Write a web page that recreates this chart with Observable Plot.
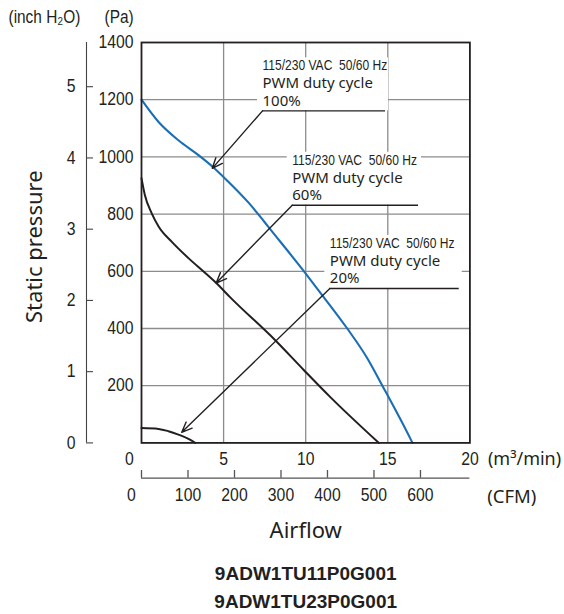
<!DOCTYPE html>
<html><head><meta charset="utf-8">
<script src="https://cdn.jsdelivr.net/npm/d3@7"></script>
<script src="https://cdn.jsdelivr.net/npm/@observablehq/plot@0.6"></script>
<style>body{margin:0;background:#fff}</style>
</head><body><div id="chart"></div>
<script>
// ---- data (airflow m³/min, static pressure Pa) ----
const airflow100 = [0, 1.04, 2.25, 3.47, 4.38, 5.1, 6.52, 7.33, 7.69, 9.85, 11.0, 12.53, 13.75, 14.66, 16.38, 16.5];
const pressure100 = [1200, 1122, 1058, 1006, 963, 924, 840, 784, 758, 603, 517, 400, 296, 201, 14, 0];
const airflow60 = [0, 0.2, 0.63, 1.04, 1.85, 2.86, 3.88, 4.55, 5.42, 8.16, 9.88, 11.5, 14.45];
const pressure60 = [925, 868, 802, 757, 703, 646, 594, 559, 508, 358, 255, 160, 0];
const airflow20 = [0, 1.04, 1.64, 2.25, 2.86, 3.27];
const pressure20 = [52, 49, 41, 29, 14, 0];

// tick labels
const paTicks = [200, 400, 600, 800, 1000, 1200, 1400];
const inchTicks = [0, 1, 2, 3, 4, 5];
const m3Ticks = [0, 5, 10, 15, 20];
const cfmTicks = [0, 100, 200, 300, 400, 500, 600];
const PA_PER_INCH = 249.089;
const M3_PER_CFM = 0.0283168;

// annotations
const annoTitle = "115/230 VAC  50/60 Hz";
const annoSub = "PWM duty cycle";
const annoDuty = ["100%", "60%", "20%"];
const annoTextX = [7.37, 9.18, 11.47];
const annoLineY = [1161, 831, 540];
const annoLineEndX = [14.86, 16.87, 19.35];
const annoTipX = [4.31, 4.55, 2.45];
const annoTipY = [960, 559, 37];

// ---- layout ----
const W = 564, H = 614;
const mL = 141, mR = 94.6, mT = 42, mB = 171.6;
const pxPerX = (W - mL - mR) / 20;
const pxPerY = (H - mT - mB) / 1400;
const px = p => p / pxPerX;   // pixels -> x data units
const py = p => p / pxPerY;   // pixels -> y data units
const ink = "#231f20";
const blue = "#1a6eb6";
const grid = "#8c8c8c";
const cond = "'Liberation Sans', Arial, sans-serif";   // horizontally condensed afterwards
const sans = "'Noto Sans', 'Open Sans', sans-serif";

const rows = (xs, ys) => xs.map((x, i) => ({x, y: ys[i]}));
const s100 = rows(airflow100, pressure100);
const s60 = rows(airflow60, pressure60);
const s20 = rows(airflow20, pressure20);
const annos = annoDuty.map((duty, i) => ({
  duty, x: annoTextX[i], y: annoLineY[i], x2: annoLineEndX[i], tx: annoTipX[i], ty: annoTipY[i]
}));

const inchAxisX = -px(55);
const inchTickEnd = -px(48);
const cfmAxisY = -py(35.3);
const cfmTickTop = -py(27.6);

const tick = {fontFamily: cond, fontSize: 17.5, fill: ink, lineAnchor: "middle", ariaDescription: "cond-0.9"};

const chart = Plot.plot({
  width: W, height: H,
  marginLeft: mL, marginRight: mR, marginTop: mT, marginBottom: mB,
  x: {domain: [0, 20], axis: null},
  y: {domain: [0, 1400], axis: null},
  style: {fontFamily: sans, color: ink, background: "#fff"},
  marks: [
    // grid
    Plot.ruleX(m3Ticks.filter(d => d > 0 && d < 20), {stroke: grid, strokeWidth: 1.3}),
    Plot.ruleY(paTicks.filter(d => d < 1400), {stroke: grid, strokeWidth: 1.3}),
    // white label boxes
    Plot.rect(annos, {x1: d => d.x - px(5), x2: d => d.x2 + px(3), y1: "y", y2: d => d.y + py(53), fill: "white"}),
    // curves
    Plot.line(s100, {x: "x", y: "y", stroke: blue, strokeWidth: 2.1, curve: "monotone-x"}),
    Plot.line(s60, {x: "x", y: "y", stroke: ink, strokeWidth: 2, curve: "monotone-x"}),
    Plot.line(s20, {x: "x", y: "y", stroke: ink, strokeWidth: 2, curve: "monotone-x"}),
    Plot.frame({stroke: ink, strokeWidth: 1.8}),
    // annotation leaders
    Plot.ruleY(annos, {y: "y", x1: "x", x2: "x2", stroke: ink, strokeWidth: 1.4}),
    Plot.arrow(annos, {x1: "x", y1: "y", x2: "tx", y2: "ty", stroke: ink, strokeWidth: 1.4, headLength: 12, headAngle: 45}),
    Plot.text(annos, {x: "x", y: "y", text: () => annoTitle, dy: -45, textAnchor: "start", lineAnchor: "middle", fontFamily: cond, fontSize: 14.5, fill: ink, ariaDescription: "cond-0.83"}),
    Plot.text(annos, {x: "x", y: "y", text: () => annoSub, dy: -27.5, textAnchor: "start", lineAnchor: "middle", fontSize: 15, fill: ink}),
    Plot.text(annos, {x: "x", y: "y", text: "duty", dy: -10, textAnchor: "start", lineAnchor: "middle", fontSize: 15, fill: ink}),
    // Pa axis labels
    Plot.text(paTicks, {x: 0, y: d => d, text: d => String(d), textAnchor: "end", dx: -8, ...tick}),
    // inch H2O axis
    Plot.ruleX([inchAxisX], {y1: 0, y2: 1400, stroke: "#444", strokeWidth: 1.1}),
    Plot.ruleY(inchTicks, {y: d => d * PA_PER_INCH, x1: inchAxisX, x2: inchTickEnd, stroke: "#444", strokeWidth: 1.1}),
    Plot.text(inchTicks, {x: inchAxisX, y: d => d * PA_PER_INCH, text: d => String(d), textAnchor: "end", dx: -11, ...tick}),
    // m3/min axis labels
    Plot.text(m3Ticks.filter(d => d > 0), {x: d => d, y: 0, text: d => String(d), dy: 16, ...tick}),
    Plot.text(m3Ticks.filter(d => d === 0), {x: d => d, y: 0, text: d => String(d), dy: 16, dx: -12, ...tick}),
    // CFM axis
    Plot.ruleY([cfmAxisY], {x1: 0, x2: 20, stroke: "#555", strokeWidth: 1.3}),
    Plot.ruleX(cfmTicks, {x: d => d * M3_PER_CFM, y1: cfmAxisY, y2: cfmTickTop, stroke: "#555", strokeWidth: 1.3}),
    Plot.text(cfmTicks.filter(d => d > 0), {x: d => d * M3_PER_CFM, y: 0, text: d => String(d), dy: 52.5, ...tick}),
    Plot.text(cfmTicks.filter(d => d === 0), {x: d => d * M3_PER_CFM, y: 0, text: d => String(d), dy: 52.5, dx: -10, ...tick}),
    // unit labels
    Plot.text(["(inch H₂O)"], {frameAnchor: "top-left", dx: -133, dy: -25, textAnchor: "start", lineAnchor: "middle", fontFamily: cond, fontSize: 17.5, fill: ink, ariaDescription: "cond-0.88"}),
    Plot.text(["(Pa)"], {frameAnchor: "top-left", dx: -37, dy: -25, textAnchor: "start", lineAnchor: "middle", fontFamily: cond, fontSize: 17.5, fill: ink, ariaDescription: "cond-0.88"}),
    Plot.text(["(m³/min)"], {frameAnchor: "bottom-right", dx: 18, dy: 16, textAnchor: "start", lineAnchor: "middle", fontSize: 18, fill: ink}),
    Plot.text(["(CFM)"], {frameAnchor: "bottom-right", dx: 17.3, dy: 54.3, textAnchor: "start", lineAnchor: "middle", fontSize: 18.5, fill: ink}),
    // titles
    Plot.text(["Static pressure"], {frameAnchor: "left", rotate: -90, dx: -107, dy: 4, textAnchor: "middle", lineAnchor: "middle", fontSize: 22, fill: ink}),
    Plot.text(["Airflow"], {frameAnchor: "bottom", dy: 88, textAnchor: "middle", lineAnchor: "middle", fontSize: 22, fill: ink}),
    Plot.text(["9ADW1TU11P0G001"], {frameAnchor: "bottom", dy: 131.3, textAnchor: "middle", lineAnchor: "middle", fontFamily: "'Liberation Sans', Arial, sans-serif", fontWeight: "bold", fontSize: 19, fill: ink}),
    Plot.text(["9ADW1TU23P0G001"], {frameAnchor: "bottom", dy: 159.3, textAnchor: "middle", lineAnchor: "middle", fontFamily: "'Liberation Sans', Arial, sans-serif", fontWeight: "bold", fontSize: 19, fill: ink})
  ]
});
document.getElementById("chart").appendChild(chart);

// condense glyphs horizontally (the reference uses a condensed face)
d3.select(chart).selectAll('g[aria-description^="cond-"]').each(function() {
  const f = +this.getAttribute("aria-description").slice(5);
  d3.select(this).selectAll("text").each(function() {
    const w = this.getComputedTextLength();
    if (w > 0) {
      this.setAttribute("textLength", (w * f).toFixed(2));
      this.setAttribute("lengthAdjust", "spacingAndGlyphs");
    }
  });
});
</script>
</body></html>
